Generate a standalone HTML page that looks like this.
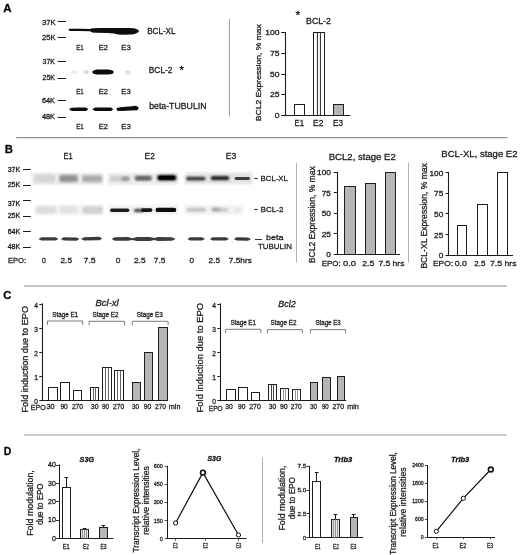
<!DOCTYPE html>
<html><head><meta charset="utf-8"><style>
html,body{margin:0;padding:0;background:#fff;}
svg{display:block;font-family:"Liberation Sans", sans-serif;will-change:transform;filter:blur(0.3px);}
text{stroke:#1c1c1c;stroke-width:0.28px;}
</style></head><body>
<svg width="520" height="555" viewBox="0 0 520 555">
<defs><filter id="b1" x="-50%" y="-50%" width="200%" height="200%"><feGaussianBlur stdDeviation="0.1"/></filter><filter id="b2" x="-50%" y="-50%" width="200%" height="200%"><feGaussianBlur stdDeviation="0.2"/></filter><filter id="b3" x="-50%" y="-50%" width="200%" height="200%"><feGaussianBlur stdDeviation="0.3"/></filter><filter id="b4" x="-50%" y="-50%" width="200%" height="200%"><feGaussianBlur stdDeviation="0.4"/></filter><filter id="b5" x="-50%" y="-50%" width="200%" height="200%"><feGaussianBlur stdDeviation="0.5"/></filter><filter id="b6" x="-50%" y="-50%" width="200%" height="200%"><feGaussianBlur stdDeviation="0.6"/></filter><filter id="b7" x="-50%" y="-50%" width="200%" height="200%"><feGaussianBlur stdDeviation="0.7"/></filter><filter id="b8" x="-50%" y="-50%" width="200%" height="200%"><feGaussianBlur stdDeviation="0.8"/></filter><filter id="b9" x="-50%" y="-50%" width="200%" height="200%"><feGaussianBlur stdDeviation="0.9"/></filter><filter id="b10" x="-50%" y="-50%" width="200%" height="200%"><feGaussianBlur stdDeviation="1.0"/></filter><filter id="b11" x="-50%" y="-50%" width="200%" height="200%"><feGaussianBlur stdDeviation="1.1"/></filter><filter id="b12" x="-50%" y="-50%" width="200%" height="200%"><feGaussianBlur stdDeviation="1.2"/></filter><filter id="b13" x="-50%" y="-50%" width="200%" height="200%"><feGaussianBlur stdDeviation="1.3"/></filter><filter id="b14" x="-50%" y="-50%" width="200%" height="200%"><feGaussianBlur stdDeviation="1.4"/></filter><filter id="b15" x="-50%" y="-50%" width="200%" height="200%"><feGaussianBlur stdDeviation="1.5"/></filter><filter id="b16" x="-50%" y="-50%" width="200%" height="200%"><feGaussianBlur stdDeviation="1.6"/></filter><filter id="b17" x="-50%" y="-50%" width="200%" height="200%"><feGaussianBlur stdDeviation="1.7"/></filter><filter id="b18" x="-50%" y="-50%" width="200%" height="200%"><feGaussianBlur stdDeviation="1.8"/></filter><filter id="b19" x="-50%" y="-50%" width="200%" height="200%"><feGaussianBlur stdDeviation="1.9"/></filter><filter id="b20" x="-50%" y="-50%" width="200%" height="200%"><feGaussianBlur stdDeviation="2.0"/></filter></defs>
<rect width="520" height="555" fill="#fff"/>
<text x="3.20" y="11.90" font-size="11.60" textLength="8.30" lengthAdjust="spacingAndGlyphs" font-weight="bold" fill="#000">A</text>
<text x="41.90" y="24.50" font-size="6.50" textLength="13.70" lengthAdjust="spacingAndGlyphs" fill="#1c1c1c">37K</text>
<line x1="57.50" y1="21.50" x2="66.00" y2="21.50" stroke="#1c1c1c" stroke-width="1.0"/>
<text x="41.90" y="39.80" font-size="6.50" textLength="13.70" lengthAdjust="spacingAndGlyphs" fill="#1c1c1c">25K</text>
<line x1="57.50" y1="37.50" x2="66.00" y2="37.50" stroke="#1c1c1c" stroke-width="1.0"/>
<path d="M69.00,28.80 L80.00,28.80 L90.00,28.90 L92.50,28.30 L100.00,28.10 L112.00,28.10 L118.00,27.90 L128.00,27.90 L134.00,28.30 L137.50,29.40 L139.20,31.00 L138.00,32.60 L134.00,34.20 L126.00,34.80 L118.00,34.60 L114.00,33.60 L108.00,33.00 L96.00,32.80 L92.50,32.60 L90.00,31.20 L80.00,31.00 L70.00,31.00 L68.60,29.90 Z" fill="#0a0a0a" opacity="1" filter="url(#b4)"/>
<text x="147.20" y="33.70" font-size="8.20" textLength="28.30" lengthAdjust="spacingAndGlyphs" fill="#1c1c1c">BCL-XL</text>
<text x="76.30" y="49.60" font-size="7.90" textLength="7.40" lengthAdjust="spacingAndGlyphs" fill="#1c1c1c">E1</text>
<text x="98.80" y="49.60" font-size="7.90" textLength="9.20" lengthAdjust="spacingAndGlyphs" fill="#1c1c1c">E2</text>
<text x="121.30" y="49.60" font-size="7.90" textLength="9.40" lengthAdjust="spacingAndGlyphs" fill="#1c1c1c">E3</text>
<text x="42.50" y="63.80" font-size="6.50" textLength="12.50" lengthAdjust="spacingAndGlyphs" fill="#1c1c1c">37K</text>
<line x1="57.50" y1="61.50" x2="66.00" y2="61.50" stroke="#1c1c1c" stroke-width="1.0"/>
<text x="42.50" y="80.00" font-size="6.50" textLength="12.50" lengthAdjust="spacingAndGlyphs" fill="#1c1c1c">25K</text>
<line x1="57.50" y1="78.50" x2="66.00" y2="78.50" stroke="#1c1c1c" stroke-width="1.0"/>
<ellipse cx="74.50" cy="72.30" rx="3.00" ry="1.00" fill="#c8c8c8" opacity="0.8" filter="url(#b9)"/>
<ellipse cx="86.30" cy="72.10" rx="2.80" ry="1.10" fill="#a8a8a8" opacity="0.9" filter="url(#b9)"/>
<ellipse cx="127.70" cy="72.30" rx="2.80" ry="1.10" fill="#b0b0b0" opacity="0.9" filter="url(#b9)"/>
<path d="M92.00,72.00 L93.50,70.40 L97.00,69.60 L108.00,69.50 L112.20,70.20 L114.00,72.00 L112.20,73.90 L108.00,74.50 L97.00,74.50 L93.50,73.80 Z" fill="#080808" opacity="1" filter="url(#b5)"/>
<text x="148.80" y="73.20" font-size="8.20" textLength="23.70" lengthAdjust="spacingAndGlyphs" fill="#1c1c1c">BCL-2</text>
<text x="179.40" y="73.60" font-size="10.50" textLength="4.40" lengthAdjust="spacingAndGlyphs" fill="#000">*</text>
<text x="76.30" y="94.00" font-size="7.90" textLength="7.40" lengthAdjust="spacingAndGlyphs" fill="#1c1c1c">E1</text>
<text x="98.80" y="94.00" font-size="7.90" textLength="9.20" lengthAdjust="spacingAndGlyphs" fill="#1c1c1c">E2</text>
<text x="121.30" y="94.00" font-size="7.90" textLength="9.40" lengthAdjust="spacingAndGlyphs" fill="#1c1c1c">E3</text>
<text x="42.00" y="103.00" font-size="6.50" textLength="13.00" lengthAdjust="spacingAndGlyphs" fill="#1c1c1c">64K</text>
<line x1="57.50" y1="100.50" x2="66.00" y2="100.50" stroke="#1c1c1c" stroke-width="1.0"/>
<text x="42.00" y="118.80" font-size="6.50" textLength="13.00" lengthAdjust="spacingAndGlyphs" fill="#1c1c1c">48K</text>
<line x1="57.50" y1="117.50" x2="66.00" y2="117.50" stroke="#1c1c1c" stroke-width="1.0"/>
<path d="M69.00,109.30 L71.50,107.70 L78.00,107.50 L86.00,107.60 L88.40,109.30 L86.00,111.00 L78.00,110.90 L71.50,111.00 Z" fill="#0a0a0a" opacity="1" filter="url(#b5)"/>
<path d="M92.40,109.30 L95.00,107.60 L103.00,107.50 L111.00,107.60 L113.40,109.20 L111.00,110.90 L103.00,110.90 L95.00,111.00 Z" fill="#0a0a0a" opacity="1" filter="url(#b5)"/>
<path d="M116.60,108.00 L122.00,107.00 L130.00,106.50 L136.00,105.80 L138.80,107.50 L137.50,110.20 L130.00,110.60 L122.00,111.00 L117.00,110.80 Z" fill="#080808" opacity="1" filter="url(#b5)"/>
<text x="149.20" y="109.00" font-size="8.50" textLength="57.30" lengthAdjust="spacingAndGlyphs" fill="#1c1c1c">beta-TUBULIN</text>
<text x="76.30" y="129.30" font-size="7.90" textLength="7.40" lengthAdjust="spacingAndGlyphs" fill="#1c1c1c">E1</text>
<text x="98.80" y="129.30" font-size="7.90" textLength="9.20" lengthAdjust="spacingAndGlyphs" fill="#1c1c1c">E2</text>
<text x="121.30" y="129.30" font-size="7.90" textLength="9.40" lengthAdjust="spacingAndGlyphs" fill="#1c1c1c">E3</text>
<line x1="229.50" y1="18.80" x2="229.50" y2="116.50" stroke="#a0a0a0" stroke-width="1.0"/>
<text x="295.60" y="19.30" font-size="10.50" textLength="4.80" lengthAdjust="spacingAndGlyphs" fill="#000">*</text>
<text x="306.00" y="23.80" font-size="8.20" textLength="25.00" lengthAdjust="spacingAndGlyphs" fill="#1c1c1c">BCL-2</text>
<line x1="285.50" y1="32.00" x2="285.50" y2="116.00" stroke="#1c1c1c" stroke-width="1.1"/>
<line x1="281.20" y1="115.50" x2="285.60" y2="115.50" stroke="#1c1c1c" stroke-width="1.0"/>
<text x="274.65" y="118.01" font-size="7.00" textLength="4.75" lengthAdjust="spacingAndGlyphs" fill="#1c1c1c">0</text>
<line x1="281.20" y1="94.50" x2="285.60" y2="94.50" stroke="#1c1c1c" stroke-width="1.0"/>
<text x="269.90" y="97.26" font-size="7.00" textLength="9.50" lengthAdjust="spacingAndGlyphs" fill="#1c1c1c">25</text>
<line x1="281.20" y1="74.50" x2="285.60" y2="74.50" stroke="#1c1c1c" stroke-width="1.0"/>
<text x="269.90" y="76.51" font-size="7.00" textLength="9.50" lengthAdjust="spacingAndGlyphs" fill="#1c1c1c">50</text>
<line x1="281.20" y1="53.50" x2="285.60" y2="53.50" stroke="#1c1c1c" stroke-width="1.0"/>
<text x="269.90" y="55.76" font-size="7.00" textLength="9.50" lengthAdjust="spacingAndGlyphs" fill="#1c1c1c">75</text>
<line x1="281.20" y1="32.50" x2="285.60" y2="32.50" stroke="#1c1c1c" stroke-width="1.0"/>
<text x="265.15" y="35.01" font-size="7.00" textLength="14.25" lengthAdjust="spacingAndGlyphs" fill="#1c1c1c">100</text>
<line x1="285.00" y1="115.50" x2="350.50" y2="115.50" stroke="#1c1c1c" stroke-width="1.1"/>
<rect x="294.50" y="104.50" width="10.00" height="11.00" fill="#fff" stroke="#1e1e1e" stroke-width="1"/>
<rect x="313.50" y="32.50" width="11.00" height="83.00" fill="#fff" stroke="#1e1e1e" stroke-width="1"/>
<line x1="317.40" y1="32.50" x2="317.40" y2="115.50" stroke="#222" stroke-width="1.0"/>
<line x1="320.40" y1="32.50" x2="320.40" y2="115.50" stroke="#222" stroke-width="1.0"/>
<rect x="333.50" y="104.50" width="10.00" height="11.00" fill="#b6b6b6" stroke="#1e1e1e" stroke-width="1"/>
<text x="294.60" y="125.90" font-size="8.40" textLength="9.40" lengthAdjust="spacingAndGlyphs" fill="#1c1c1c">E1</text>
<text x="313.00" y="125.90" font-size="8.40" textLength="10.40" lengthAdjust="spacingAndGlyphs" fill="#1c1c1c">E2</text>
<text x="333.00" y="125.90" font-size="8.40" textLength="10.00" lengthAdjust="spacingAndGlyphs" fill="#1c1c1c">E3</text>
<text transform="translate(260.80,121.20) rotate(-90)" x="0" y="0" font-size="8.00" textLength="97.00" lengthAdjust="spacingAndGlyphs" fill="#1c1c1c">BCL2 Expression, % max</text>
<line x1="16.20" y1="137.60" x2="507.60" y2="137.60" stroke="#969696" stroke-width="1.3"/>
<text x="4.80" y="152.70" font-size="11.20" textLength="8.20" lengthAdjust="spacingAndGlyphs" font-weight="bold" fill="#000">B</text>
<text x="63.60" y="158.80" font-size="8.60" textLength="9.20" lengthAdjust="spacingAndGlyphs" fill="#1c1c1c">E1</text>
<text x="144.60" y="158.50" font-size="8.60" textLength="10.20" lengthAdjust="spacingAndGlyphs" fill="#1c1c1c">E2</text>
<text x="225.80" y="158.80" font-size="8.60" textLength="10.40" lengthAdjust="spacingAndGlyphs" fill="#1c1c1c">E3</text>
<text x="7.70" y="171.80" font-size="6.30" textLength="12.50" lengthAdjust="spacingAndGlyphs" fill="#1c1c1c">37K</text>
<line x1="23.00" y1="169.50" x2="30.80" y2="169.50" stroke="#1c1c1c" stroke-width="1.0"/>
<text x="7.70" y="187.10" font-size="6.30" textLength="12.50" lengthAdjust="spacingAndGlyphs" fill="#1c1c1c">25K</text>
<line x1="23.00" y1="185.50" x2="30.80" y2="185.50" stroke="#1c1c1c" stroke-width="1.0"/>
<text x="7.70" y="205.90" font-size="6.30" textLength="12.50" lengthAdjust="spacingAndGlyphs" fill="#1c1c1c">37K</text>
<line x1="23.00" y1="200.50" x2="30.80" y2="200.50" stroke="#1c1c1c" stroke-width="1.0"/>
<text x="7.70" y="218.00" font-size="6.30" textLength="12.50" lengthAdjust="spacingAndGlyphs" fill="#1c1c1c">25K</text>
<line x1="23.00" y1="216.50" x2="30.80" y2="216.50" stroke="#1c1c1c" stroke-width="1.0"/>
<text x="7.70" y="233.90" font-size="6.30" textLength="12.50" lengthAdjust="spacingAndGlyphs" fill="#1c1c1c">64K</text>
<line x1="23.00" y1="231.50" x2="30.80" y2="231.50" stroke="#1c1c1c" stroke-width="1.0"/>
<text x="7.70" y="248.80" font-size="6.30" textLength="12.50" lengthAdjust="spacingAndGlyphs" fill="#1c1c1c">48K</text>
<line x1="23.00" y1="247.50" x2="30.80" y2="247.50" stroke="#1c1c1c" stroke-width="1.0"/>
<rect x="32.00" y="172.80" width="71.50" height="12.20" rx="1.00" fill="#ededed" opacity="1" filter="url(#b10)"/>
<rect x="108.00" y="172.80" width="70.00" height="12.20" rx="1.00" fill="#ededed" opacity="1" filter="url(#b10)"/>
<rect x="184.50" y="172.60" width="68.00" height="11.60" rx="1.00" fill="#e4e4e4" opacity="1" filter="url(#b9)"/>
<rect x="34.50" y="205.00" width="69.00" height="9.80" rx="1.00" fill="#f2f2f2" opacity="1" filter="url(#b10)"/>
<rect x="108.00" y="205.00" width="70.00" height="9.80" rx="1.00" fill="#f2f2f2" opacity="1" filter="url(#b10)"/>
<rect x="184.50" y="205.00" width="58.50" height="9.80" rx="1.00" fill="#f2f2f2" opacity="1" filter="url(#b10)"/>
<rect x="34.00" y="174.60" width="21.00" height="8.00" rx="2.00" fill="#d6d6d6" opacity="1" filter="url(#b11)"/>
<rect x="59.00" y="174.40" width="19.00" height="8.00" rx="2.00" fill="#ababab" opacity="1" filter="url(#b11)"/>
<rect x="60.50" y="176.40" width="16.00" height="4.20" rx="2.00" fill="#8e8e8e" opacity="1" filter="url(#b9)"/>
<rect x="82.00" y="175.00" width="20.50" height="7.60" rx="2.00" fill="#bcbcbc" opacity="1" filter="url(#b11)"/>
<rect x="83.00" y="177.00" width="18.00" height="3.60" rx="2.00" fill="#a6a6a6" opacity="1" filter="url(#b9)"/>
<rect x="110.00" y="176.00" width="19.50" height="5.40" rx="2.00" fill="#cdcdcd" opacity="1" filter="url(#b10)"/>
<rect x="121.50" y="176.80" width="8.00" height="3.80" rx="1.50" fill="#959595" opacity="1" filter="url(#b9)"/>
<rect x="134.50" y="175.60" width="17.50" height="5.20" rx="2.00" fill="#8c8c8c" opacity="1" filter="url(#b10)"/>
<rect x="136.00" y="176.80" width="14.50" height="3.00" rx="1.50" fill="#5e5e5e" opacity="1" filter="url(#b8)"/>
<rect x="157.00" y="174.80" width="19.50" height="6.00" rx="2.50" fill="#2a2a2a" opacity="1" filter="url(#b9)"/>
<rect x="158.50" y="175.80" width="16.50" height="4.00" rx="2.00" fill="#050505" opacity="1" filter="url(#b7)"/>
<rect x="186.00" y="176.80" width="19.50" height="3.60" rx="1.80" fill="#363636" opacity="1" filter="url(#b8)"/>
<rect x="210.80" y="176.00" width="18.40" height="4.20" rx="2.00" fill="#242424" opacity="1" filter="url(#b8)"/>
<rect x="234.60" y="177.00" width="15.40" height="2.90" rx="1.50" fill="#3e3e3e" opacity="1" filter="url(#b7)"/>
<rect x="35.70" y="206.40" width="20.80" height="7.20" rx="2.00" fill="#dcdcdc" opacity="1" filter="url(#b11)"/>
<rect x="59.50" y="206.40" width="17.70" height="7.00" rx="2.00" fill="#e2e2e2" opacity="1" filter="url(#b11)"/>
<rect x="82.60" y="206.40" width="20.00" height="7.40" rx="2.00" fill="#d2d2d2" opacity="1" filter="url(#b11)"/>
<rect x="110.00" y="208.40" width="19.40" height="3.60" rx="1.80" fill="#1e1e1e" opacity="1" filter="url(#b7)"/>
<rect x="134.00" y="208.80" width="10.00" height="3.40" rx="1.60" fill="#505050" opacity="1" filter="url(#b8)"/>
<rect x="141.00" y="208.20" width="11.50" height="3.70" rx="1.80" fill="#151515" opacity="1" filter="url(#b7)"/>
<rect x="155.50" y="207.70" width="20.80" height="4.40" rx="2.20" fill="#0a0a0a" opacity="1" filter="url(#b7)"/>
<path d="M186.00,209.80 L188.50,207.80 L204.50,207.80 L207.00,209.80 L204.50,211.80 L188.50,211.80 Z" fill="#c2c2c2" opacity="1" filter="url(#b11)"/>
<path d="M210.80,209.60 L213.30,207.60 L219.50,207.60 L222.00,209.60 L219.50,211.60 L213.30,211.60 Z" fill="#a4a4a4" opacity="1" filter="url(#b10)"/>
<path d="M218.00,209.80 L220.50,208.10 L226.70,208.10 L229.20,209.80 L226.70,211.50 L220.50,211.50 Z" fill="#cacaca" opacity="1" filter="url(#b10)"/>
<path d="M233.00,210.00 L235.50,208.50 L239.00,208.50 L241.50,210.00 L239.00,211.50 L235.50,211.50 Z" fill="#e2e2e2" opacity="1" filter="url(#b10)"/>
<path d="M38.50,238.90 L41.50,237.25 L55.50,237.25 L58.50,238.90 L55.50,240.55 L41.50,240.55 Z" fill="#3a3a3a" opacity="1" filter="url(#b6)"/>
<path d="M60.80,238.90 L63.80,237.25 L76.50,237.55 L79.50,239.05 L76.50,240.85 L63.80,240.55 Z" fill="#3a3a3a" opacity="1" filter="url(#b6)"/>
<path d="M81.00,238.90 L84.00,237.25 L99.30,236.85 L102.30,238.70 L99.30,240.15 L84.00,240.55 Z" fill="#3a3a3a" opacity="1" filter="url(#b6)"/>
<path d="M187.30,238.90 L190.30,237.25 L202.00,237.25 L205.00,238.90 L202.00,240.55 L190.30,240.55 Z" fill="#3a3a3a" opacity="1" filter="url(#b6)"/>
<path d="M209.80,238.90 L212.80,237.25 L226.00,237.25 L229.00,238.90 L226.00,240.55 L212.80,240.55 Z" fill="#3a3a3a" opacity="1" filter="url(#b6)"/>
<path d="M233.80,238.90 L236.80,237.25 L248.00,237.55 L251.00,239.05 L248.00,240.85 L236.80,240.55 Z" fill="#3a3a3a" opacity="1" filter="url(#b6)"/>
<path d="M111.50,239.00 L115.00,237.20 L128.00,237.10 L132.40,238.20 L137.00,237.00 L150.00,237.00 L154.00,238.10 L158.00,237.00 L172.00,237.20 L175.70,239.00 L172.00,240.70 L158.00,240.90 L154.00,240.00 L150.00,240.90 L137.00,240.90 L132.40,240.00 L128.00,240.80 L115.00,240.80 Z" fill="#3c3c3c" opacity="1" filter="url(#b6)"/>
<line x1="254.40" y1="178.50" x2="257.60" y2="178.50" stroke="#1c1c1c" stroke-width="1.1"/>
<text x="260.60" y="181.10" font-size="8.00" textLength="27.30" lengthAdjust="spacingAndGlyphs" fill="#1c1c1c">BCL-XL</text>
<line x1="254.40" y1="209.50" x2="257.60" y2="209.50" stroke="#1c1c1c" stroke-width="1.1"/>
<text x="260.60" y="212.00" font-size="8.00" textLength="22.90" lengthAdjust="spacingAndGlyphs" fill="#1c1c1c">BCL-2</text>
<line x1="255.00" y1="239.50" x2="262.00" y2="239.50" stroke="#1c1c1c" stroke-width="0.9"/>
<text x="266.00" y="240.40" font-size="8.00" textLength="17.50" lengthAdjust="spacingAndGlyphs" fill="#1c1c1c">beta</text>
<text x="257.90" y="249.20" font-size="8.00" textLength="34.00" lengthAdjust="spacingAndGlyphs" fill="#1c1c1c">TUBULIN</text>
<text x="8.00" y="263.00" font-size="7.80" textLength="18.00" lengthAdjust="spacingAndGlyphs" fill="#1c1c1c">EPO:</text>
<text x="41.80" y="263.00" font-size="7.80" textLength="4.20" lengthAdjust="spacingAndGlyphs" fill="#1c1c1c">0</text>
<text x="60.50" y="263.00" font-size="7.80" textLength="11.50" lengthAdjust="spacingAndGlyphs" fill="#1c1c1c">2.5</text>
<text x="83.60" y="263.00" font-size="7.80" textLength="12.10" lengthAdjust="spacingAndGlyphs" fill="#1c1c1c">7.5</text>
<text x="115.80" y="263.00" font-size="7.80" textLength="4.70" lengthAdjust="spacingAndGlyphs" fill="#1c1c1c">0</text>
<text x="134.00" y="263.00" font-size="7.80" textLength="11.50" lengthAdjust="spacingAndGlyphs" fill="#1c1c1c">2.5</text>
<text x="153.80" y="263.00" font-size="7.80" textLength="11.60" lengthAdjust="spacingAndGlyphs" fill="#1c1c1c">7.5</text>
<text x="189.60" y="263.00" font-size="7.80" textLength="4.60" lengthAdjust="spacingAndGlyphs" fill="#1c1c1c">0</text>
<text x="208.60" y="263.00" font-size="7.80" textLength="11.50" lengthAdjust="spacingAndGlyphs" fill="#1c1c1c">2.5</text>
<text x="228.80" y="263.00" font-size="7.80" textLength="23.00" lengthAdjust="spacingAndGlyphs" fill="#1c1c1c">7.5hrs</text>
<line x1="296.50" y1="163.00" x2="296.50" y2="262.50" stroke="#b4b4b4" stroke-width="1.0"/>
<text x="328.70" y="160.10" font-size="8.60" textLength="67.10" lengthAdjust="spacingAndGlyphs" fill="#1c1c1c">BCL2, stage E2</text>
<line x1="337.50" y1="171.90" x2="337.50" y2="254.90" stroke="#1c1c1c" stroke-width="1.1"/>
<line x1="333.80" y1="254.50" x2="337.00" y2="254.50" stroke="#1c1c1c" stroke-width="1.0"/>
<text x="326.30" y="257.41" font-size="7.00" textLength="4.60" lengthAdjust="spacingAndGlyphs" fill="#1c1c1c">0</text>
<line x1="333.80" y1="233.50" x2="337.00" y2="233.50" stroke="#1c1c1c" stroke-width="1.0"/>
<text x="321.70" y="236.91" font-size="7.00" textLength="9.20" lengthAdjust="spacingAndGlyphs" fill="#1c1c1c">25</text>
<line x1="333.80" y1="213.50" x2="337.00" y2="213.50" stroke="#1c1c1c" stroke-width="1.0"/>
<text x="321.70" y="216.41" font-size="7.00" textLength="9.20" lengthAdjust="spacingAndGlyphs" fill="#1c1c1c">50</text>
<line x1="333.80" y1="192.50" x2="337.00" y2="192.50" stroke="#1c1c1c" stroke-width="1.0"/>
<text x="321.70" y="195.91" font-size="7.00" textLength="9.20" lengthAdjust="spacingAndGlyphs" fill="#1c1c1c">75</text>
<line x1="333.80" y1="172.50" x2="337.00" y2="172.50" stroke="#1c1c1c" stroke-width="1.0"/>
<text x="317.10" y="175.41" font-size="7.00" textLength="13.80" lengthAdjust="spacingAndGlyphs" fill="#1c1c1c">100</text>
<line x1="336.50" y1="254.50" x2="400.00" y2="254.50" stroke="#1c1c1c" stroke-width="1.1"/>
<rect x="344.50" y="186.50" width="11.00" height="68.00" fill="#b6b6b6" stroke="#1e1e1e" stroke-width="1"/>
<rect x="365.50" y="183.50" width="10.00" height="71.00" fill="#b6b6b6" stroke="#1e1e1e" stroke-width="1"/>
<rect x="385.50" y="172.50" width="10.00" height="82.00" fill="#b6b6b6" stroke="#1e1e1e" stroke-width="1"/>
<text x="321.70" y="265.50" font-size="8.00" textLength="19.10" lengthAdjust="spacingAndGlyphs" fill="#1c1c1c">EPO:</text>
<text x="342.90" y="265.50" font-size="8.00" textLength="13.10" lengthAdjust="spacingAndGlyphs" fill="#1c1c1c">0.0</text>
<text x="362.30" y="265.50" font-size="8.00" textLength="11.90" lengthAdjust="spacingAndGlyphs" fill="#1c1c1c">2.5</text>
<text x="378.40" y="265.50" font-size="8.00" textLength="26.00" lengthAdjust="spacingAndGlyphs" fill="#1c1c1c">7.5 hrs</text>
<text transform="translate(315.20,263.20) rotate(-90)" x="0" y="0" font-size="8.20" textLength="97.00" lengthAdjust="spacingAndGlyphs" fill="#1c1c1c">BCL2 Expression, % max</text>
<line x1="408.50" y1="162.80" x2="408.50" y2="262.60" stroke="#b4b4b4" stroke-width="1.0"/>
<text x="441.30" y="157.00" font-size="8.60" textLength="76.20" lengthAdjust="spacingAndGlyphs" fill="#1c1c1c">BCL-XL, stage E2</text>
<line x1="448.50" y1="172.10" x2="448.50" y2="255.70" stroke="#1c1c1c" stroke-width="1.1"/>
<line x1="445.50" y1="255.50" x2="448.70" y2="255.50" stroke="#1c1c1c" stroke-width="1.0"/>
<text x="438.70" y="258.21" font-size="7.00" textLength="4.60" lengthAdjust="spacingAndGlyphs" fill="#1c1c1c">0</text>
<line x1="445.50" y1="234.50" x2="448.70" y2="234.50" stroke="#1c1c1c" stroke-width="1.0"/>
<text x="434.10" y="237.56" font-size="7.00" textLength="9.20" lengthAdjust="spacingAndGlyphs" fill="#1c1c1c">25</text>
<line x1="445.50" y1="213.50" x2="448.70" y2="213.50" stroke="#1c1c1c" stroke-width="1.0"/>
<text x="434.10" y="216.91" font-size="7.00" textLength="9.20" lengthAdjust="spacingAndGlyphs" fill="#1c1c1c">50</text>
<line x1="445.50" y1="193.50" x2="448.70" y2="193.50" stroke="#1c1c1c" stroke-width="1.0"/>
<text x="434.10" y="196.26" font-size="7.00" textLength="9.20" lengthAdjust="spacingAndGlyphs" fill="#1c1c1c">75</text>
<line x1="445.50" y1="172.50" x2="448.70" y2="172.50" stroke="#1c1c1c" stroke-width="1.0"/>
<text x="429.50" y="175.61" font-size="7.00" textLength="13.80" lengthAdjust="spacingAndGlyphs" fill="#1c1c1c">100</text>
<line x1="448.20" y1="255.50" x2="513.00" y2="255.50" stroke="#1c1c1c" stroke-width="1.1"/>
<rect x="457.50" y="225.50" width="9.00" height="30.00" fill="#fff" stroke="#1e1e1e" stroke-width="1"/>
<rect x="477.50" y="204.50" width="10.00" height="51.00" fill="#fff" stroke="#1e1e1e" stroke-width="1"/>
<rect x="497.50" y="172.50" width="10.00" height="83.00" fill="#fff" stroke="#1e1e1e" stroke-width="1"/>
<text x="433.00" y="266.40" font-size="8.00" textLength="20.00" lengthAdjust="spacingAndGlyphs" fill="#1c1c1c">EPO:</text>
<text x="454.70" y="266.40" font-size="8.00" textLength="12.30" lengthAdjust="spacingAndGlyphs" fill="#1c1c1c">0.0</text>
<text x="474.30" y="266.40" font-size="8.00" textLength="11.10" lengthAdjust="spacingAndGlyphs" fill="#1c1c1c">2.5</text>
<text x="490.00" y="266.40" font-size="8.00" textLength="26.50" lengthAdjust="spacingAndGlyphs" fill="#1c1c1c">7.5 hrs</text>
<text transform="translate(426.50,268.60) rotate(-90)" x="0" y="0" font-size="8.40" textLength="105.50" lengthAdjust="spacingAndGlyphs" fill="#1c1c1c">BCL-XL Expression, % max</text>
<line x1="23.80" y1="285.90" x2="506.60" y2="285.90" stroke="#b0b0b0" stroke-width="1.5"/>
<text x="3.20" y="298.60" font-size="11.20" textLength="8.20" lengthAdjust="spacingAndGlyphs" font-weight="bold" fill="#000">C</text>
<line x1="42.50" y1="303.30" x2="42.50" y2="401.10" stroke="#1c1c1c" stroke-width="1.1"/>
<line x1="39.30" y1="400.50" x2="42.30" y2="400.50" stroke="#1c1c1c" stroke-width="1.0"/>
<text x="34.30" y="403.91" font-size="7.00" textLength="3.70" lengthAdjust="spacingAndGlyphs" fill="#1c1c1c">0</text>
<line x1="39.30" y1="376.50" x2="42.30" y2="376.50" stroke="#1c1c1c" stroke-width="1.0"/>
<text x="34.30" y="379.81" font-size="7.00" textLength="3.70" lengthAdjust="spacingAndGlyphs" fill="#1c1c1c">1</text>
<line x1="39.30" y1="352.50" x2="42.30" y2="352.50" stroke="#1c1c1c" stroke-width="1.0"/>
<text x="34.30" y="355.71" font-size="7.00" textLength="3.70" lengthAdjust="spacingAndGlyphs" fill="#1c1c1c">2</text>
<line x1="39.30" y1="328.50" x2="42.30" y2="328.50" stroke="#1c1c1c" stroke-width="1.0"/>
<text x="34.30" y="331.61" font-size="7.00" textLength="3.70" lengthAdjust="spacingAndGlyphs" fill="#1c1c1c">3</text>
<line x1="39.30" y1="304.50" x2="42.30" y2="304.50" stroke="#1c1c1c" stroke-width="1.0"/>
<text x="34.30" y="307.51" font-size="7.00" textLength="3.70" lengthAdjust="spacingAndGlyphs" fill="#1c1c1c">4</text>
<line x1="41.80" y1="400.50" x2="168.00" y2="400.50" stroke="#1c1c1c" stroke-width="1.1"/>
<rect x="48.50" y="387.50" width="9.00" height="13.00" fill="#fff" stroke="#1e1e1e" stroke-width="1"/>
<rect x="60.50" y="382.50" width="9.00" height="18.00" fill="#fff" stroke="#1e1e1e" stroke-width="1"/>
<rect x="73.50" y="390.50" width="8.00" height="10.00" fill="#fff" stroke="#1e1e1e" stroke-width="1"/>
<rect x="90.50" y="387.50" width="8.00" height="13.00" fill="#fff" stroke="#1e1e1e" stroke-width="1"/>
<line x1="93.50" y1="387.50" x2="93.50" y2="400.50" stroke="#555" stroke-width="0.9"/>
<line x1="95.50" y1="387.50" x2="95.50" y2="400.50" stroke="#555" stroke-width="0.9"/>
<rect x="102.50" y="367.50" width="9.00" height="33.00" fill="#fff" stroke="#1e1e1e" stroke-width="1"/>
<line x1="105.50" y1="367.50" x2="105.50" y2="400.50" stroke="#555" stroke-width="0.9"/>
<line x1="108.50" y1="367.50" x2="108.50" y2="400.50" stroke="#555" stroke-width="0.9"/>
<rect x="114.50" y="370.50" width="9.00" height="30.00" fill="#fff" stroke="#1e1e1e" stroke-width="1"/>
<line x1="117.50" y1="370.50" x2="117.50" y2="400.50" stroke="#555" stroke-width="0.9"/>
<line x1="120.50" y1="370.50" x2="120.50" y2="400.50" stroke="#555" stroke-width="0.9"/>
<rect x="132.50" y="382.50" width="8.00" height="18.00" fill="#b6b6b6" stroke="#1e1e1e" stroke-width="1"/>
<rect x="144.50" y="352.50" width="8.00" height="48.00" fill="#b6b6b6" stroke="#1e1e1e" stroke-width="1"/>
<rect x="158.50" y="327.50" width="9.00" height="73.00" fill="#b6b6b6" stroke="#1e1e1e" stroke-width="1"/>
<path d="M47.50,324.80 L47.50,321.00 L82.70,321.00 L82.70,324.80" fill="none" stroke="#7a7a7a" stroke-width="1.0"/>
<path d="M89.20,325.20 L89.20,321.30 L124.60,321.30 L124.60,325.20" fill="none" stroke="#7a7a7a" stroke-width="1.0"/>
<path d="M132.30,325.20 L132.30,321.30 L168.10,321.30 L168.10,325.20" fill="none" stroke="#7a7a7a" stroke-width="1.0"/>
<text x="52.30" y="317.20" font-size="7.00" textLength="26.00" lengthAdjust="spacingAndGlyphs" fill="#1c1c1c">Stage E1</text>
<text x="92.50" y="317.40" font-size="7.00" textLength="26.00" lengthAdjust="spacingAndGlyphs" fill="#1c1c1c">Stage E2</text>
<text x="136.70" y="317.40" font-size="7.00" textLength="26.00" lengthAdjust="spacingAndGlyphs" fill="#1c1c1c">Stage E3</text>
<text x="95.40" y="305.70" font-size="8.60" textLength="23.10" lengthAdjust="spacingAndGlyphs" font-style="italic" fill="#1c1c1c">Bcl-xl</text>
<text x="46.50" y="409.00" font-size="7.00" textLength="8.10" lengthAdjust="spacingAndGlyphs" fill="#1c1c1c">30</text>
<text x="60.40" y="409.00" font-size="7.00" textLength="7.30" lengthAdjust="spacingAndGlyphs" fill="#1c1c1c">90</text>
<text x="71.90" y="409.00" font-size="7.00" textLength="11.20" lengthAdjust="spacingAndGlyphs" fill="#1c1c1c">270</text>
<text x="90.80" y="409.00" font-size="7.00" textLength="7.70" lengthAdjust="spacingAndGlyphs" fill="#1c1c1c">30</text>
<text x="102.00" y="409.00" font-size="7.00" textLength="7.20" lengthAdjust="spacingAndGlyphs" fill="#1c1c1c">90</text>
<text x="113.00" y="409.00" font-size="7.00" textLength="11.20" lengthAdjust="spacingAndGlyphs" fill="#1c1c1c">270</text>
<text x="132.00" y="409.00" font-size="7.00" textLength="7.00" lengthAdjust="spacingAndGlyphs" fill="#1c1c1c">30</text>
<text x="143.80" y="409.00" font-size="7.00" textLength="7.40" lengthAdjust="spacingAndGlyphs" fill="#1c1c1c">90</text>
<text x="155.00" y="409.00" font-size="7.00" textLength="11.00" lengthAdjust="spacingAndGlyphs" fill="#1c1c1c">270</text>
<text x="30.80" y="409.80" font-size="7.40" textLength="14.80" lengthAdjust="spacingAndGlyphs" fill="#1c1c1c">EPO</text>
<text x="168.80" y="409.00" font-size="7.00" textLength="11.60" lengthAdjust="spacingAndGlyphs" fill="#1c1c1c">min</text>
<text transform="translate(28.30,412.50) rotate(-90)" x="0" y="0" font-size="8.80" textLength="106.50" lengthAdjust="spacingAndGlyphs" fill="#1c1c1c">Fold induction due to EPO</text>
<line x1="220.50" y1="303.30" x2="220.50" y2="401.10" stroke="#1c1c1c" stroke-width="1.1"/>
<line x1="217.30" y1="400.50" x2="220.30" y2="400.50" stroke="#1c1c1c" stroke-width="1.0"/>
<text x="212.30" y="403.91" font-size="7.00" textLength="3.70" lengthAdjust="spacingAndGlyphs" fill="#1c1c1c">0</text>
<line x1="217.30" y1="376.50" x2="220.30" y2="376.50" stroke="#1c1c1c" stroke-width="1.0"/>
<text x="212.30" y="379.81" font-size="7.00" textLength="3.70" lengthAdjust="spacingAndGlyphs" fill="#1c1c1c">1</text>
<line x1="217.30" y1="352.50" x2="220.30" y2="352.50" stroke="#1c1c1c" stroke-width="1.0"/>
<text x="212.30" y="355.71" font-size="7.00" textLength="3.70" lengthAdjust="spacingAndGlyphs" fill="#1c1c1c">2</text>
<line x1="217.30" y1="328.50" x2="220.30" y2="328.50" stroke="#1c1c1c" stroke-width="1.0"/>
<text x="212.30" y="331.61" font-size="7.00" textLength="3.70" lengthAdjust="spacingAndGlyphs" fill="#1c1c1c">3</text>
<line x1="217.30" y1="304.50" x2="220.30" y2="304.50" stroke="#1c1c1c" stroke-width="1.0"/>
<text x="212.30" y="307.51" font-size="7.00" textLength="3.70" lengthAdjust="spacingAndGlyphs" fill="#1c1c1c">4</text>
<line x1="219.80" y1="400.50" x2="346.20" y2="400.50" stroke="#1c1c1c" stroke-width="1.1"/>
<rect x="226.50" y="389.50" width="9.00" height="11.00" fill="#fff" stroke="#1e1e1e" stroke-width="1"/>
<rect x="238.50" y="387.50" width="9.00" height="13.00" fill="#fff" stroke="#1e1e1e" stroke-width="1"/>
<rect x="251.50" y="392.50" width="8.00" height="8.00" fill="#fff" stroke="#1e1e1e" stroke-width="1"/>
<rect x="268.50" y="384.50" width="8.00" height="16.00" fill="#fff" stroke="#1e1e1e" stroke-width="1"/>
<line x1="271.50" y1="384.50" x2="271.50" y2="400.50" stroke="#333" stroke-width="0.9"/>
<line x1="273.50" y1="384.50" x2="273.50" y2="400.50" stroke="#333" stroke-width="0.9"/>
<rect x="280.50" y="388.50" width="8.00" height="12.00" fill="#fff" stroke="#1e1e1e" stroke-width="1"/>
<line x1="283.50" y1="388.50" x2="283.50" y2="400.50" stroke="#8a8a8a" stroke-width="0.9"/>
<line x1="285.50" y1="388.50" x2="285.50" y2="400.50" stroke="#8a8a8a" stroke-width="0.9"/>
<rect x="292.50" y="389.50" width="8.00" height="11.00" fill="#fff" stroke="#1e1e1e" stroke-width="1"/>
<line x1="295.50" y1="389.50" x2="295.50" y2="400.50" stroke="#8a8a8a" stroke-width="0.9"/>
<line x1="297.50" y1="389.50" x2="297.50" y2="400.50" stroke="#8a8a8a" stroke-width="0.9"/>
<rect x="310.50" y="382.50" width="7.00" height="18.00" fill="#b6b6b6" stroke="#1e1e1e" stroke-width="1"/>
<rect x="322.50" y="377.50" width="8.00" height="23.00" fill="#b6b6b6" stroke="#1e1e1e" stroke-width="1"/>
<rect x="337.50" y="376.50" width="7.00" height="24.00" fill="#b6b6b6" stroke="#1e1e1e" stroke-width="1"/>
<path d="M225.60,333.00 L225.60,329.30 L260.80,329.30 L260.80,333.00" fill="none" stroke="#7a7a7a" stroke-width="1.0"/>
<path d="M267.30,333.40 L267.30,329.60 L302.30,329.60 L302.30,333.40" fill="none" stroke="#7a7a7a" stroke-width="1.0"/>
<path d="M310.40,333.40 L310.40,329.60 L345.60,329.60 L345.60,333.40" fill="none" stroke="#7a7a7a" stroke-width="1.0"/>
<text x="230.40" y="324.90" font-size="7.00" textLength="25.60" lengthAdjust="spacingAndGlyphs" fill="#1c1c1c">Stage E1</text>
<text x="270.60" y="325.30" font-size="7.00" textLength="25.90" lengthAdjust="spacingAndGlyphs" fill="#1c1c1c">Stage E2</text>
<text x="315.40" y="325.30" font-size="7.00" textLength="25.40" lengthAdjust="spacingAndGlyphs" fill="#1c1c1c">Stage E3</text>
<text x="278.30" y="306.90" font-size="8.60" textLength="17.30" lengthAdjust="spacingAndGlyphs" font-style="italic" fill="#1c1c1c">Bcl2</text>
<text x="225.20" y="409.00" font-size="7.00" textLength="7.50" lengthAdjust="spacingAndGlyphs" fill="#1c1c1c">30</text>
<text x="238.00" y="409.00" font-size="7.00" textLength="7.40" lengthAdjust="spacingAndGlyphs" fill="#1c1c1c">90</text>
<text x="249.20" y="409.00" font-size="7.00" textLength="11.60" lengthAdjust="spacingAndGlyphs" fill="#1c1c1c">270</text>
<text x="268.80" y="409.00" font-size="7.00" textLength="7.40" lengthAdjust="spacingAndGlyphs" fill="#1c1c1c">30</text>
<text x="280.00" y="409.00" font-size="7.00" textLength="7.70" lengthAdjust="spacingAndGlyphs" fill="#1c1c1c">90</text>
<text x="290.80" y="409.00" font-size="7.00" textLength="10.90" lengthAdjust="spacingAndGlyphs" fill="#1c1c1c">270</text>
<text x="310.00" y="409.00" font-size="7.00" textLength="7.10" lengthAdjust="spacingAndGlyphs" fill="#1c1c1c">30</text>
<text x="321.90" y="409.00" font-size="7.00" textLength="6.80" lengthAdjust="spacingAndGlyphs" fill="#1c1c1c">90</text>
<text x="332.50" y="409.00" font-size="7.00" textLength="11.50" lengthAdjust="spacingAndGlyphs" fill="#1c1c1c">270</text>
<text x="208.80" y="411.30" font-size="7.40" textLength="13.90" lengthAdjust="spacingAndGlyphs" fill="#1c1c1c">EPO</text>
<text x="347.30" y="409.00" font-size="7.00" textLength="11.50" lengthAdjust="spacingAndGlyphs" fill="#1c1c1c">min</text>
<text transform="translate(203.40,412.40) rotate(-90)" x="0" y="0" font-size="8.80" textLength="109.50" lengthAdjust="spacingAndGlyphs" fill="#1c1c1c">Fold induction due to EPO</text>
<line x1="23.80" y1="435.00" x2="506.60" y2="435.00" stroke="#b8b8b8" stroke-width="1.6"/>
<text x="3.80" y="454.60" font-size="11.20" textLength="7.60" lengthAdjust="spacingAndGlyphs" font-weight="bold" fill="#000">D</text>
<line x1="59.50" y1="464.50" x2="59.50" y2="538.90" stroke="#1c1c1c" stroke-width="1.0"/>
<line x1="56.00" y1="538.50" x2="59.00" y2="538.50" stroke="#1c1c1c" stroke-width="0.9"/>
<text x="51.90" y="540.69" font-size="6.40" textLength="3.90" lengthAdjust="spacingAndGlyphs" fill="#1c1c1c">0</text>
<line x1="56.00" y1="520.50" x2="59.00" y2="520.50" stroke="#1c1c1c" stroke-width="0.9"/>
<text x="48.00" y="522.34" font-size="6.40" textLength="7.80" lengthAdjust="spacingAndGlyphs" fill="#1c1c1c">10</text>
<line x1="56.00" y1="501.50" x2="59.00" y2="501.50" stroke="#1c1c1c" stroke-width="0.9"/>
<text x="48.00" y="503.99" font-size="6.40" textLength="7.80" lengthAdjust="spacingAndGlyphs" fill="#1c1c1c">20</text>
<line x1="56.00" y1="483.50" x2="59.00" y2="483.50" stroke="#1c1c1c" stroke-width="0.9"/>
<text x="48.00" y="485.64" font-size="6.40" textLength="7.80" lengthAdjust="spacingAndGlyphs" fill="#1c1c1c">30</text>
<line x1="56.00" y1="465.50" x2="59.00" y2="465.50" stroke="#1c1c1c" stroke-width="0.9"/>
<text x="48.00" y="467.29" font-size="6.40" textLength="7.80" lengthAdjust="spacingAndGlyphs" fill="#1c1c1c">40</text>
<line x1="58.50" y1="538.50" x2="113.30" y2="538.50" stroke="#1c1c1c" stroke-width="1.0"/>
<line x1="66.50" y1="477.84" x2="66.50" y2="487.94" stroke="#1c1c1c" stroke-width="1.0"/>
<line x1="64.40" y1="477.50" x2="68.20" y2="477.50" stroke="#1c1c1c" stroke-width="1.0"/>
<rect x="62.50" y="487.50" width="8.00" height="51.00" fill="#fff" stroke="#1e1e1e" stroke-width="1"/>
<line x1="84.50" y1="528.31" x2="84.50" y2="529.23" stroke="#1c1c1c" stroke-width="1.0"/>
<line x1="82.80" y1="528.50" x2="86.60" y2="528.50" stroke="#1c1c1c" stroke-width="1.0"/>
<rect x="80.50" y="529.50" width="8.00" height="9.00" fill="#e6e6e6" stroke="#1e1e1e" stroke-width="1"/>
<line x1="82.50" y1="529.50" x2="82.50" y2="538.50" stroke="#8a8a8a" stroke-width="0.9"/>
<line x1="84.50" y1="529.50" x2="84.50" y2="538.50" stroke="#8a8a8a" stroke-width="0.9"/>
<line x1="86.50" y1="529.50" x2="86.50" y2="538.50" stroke="#8a8a8a" stroke-width="0.9"/>
<line x1="103.50" y1="525.92" x2="103.50" y2="527.76" stroke="#1c1c1c" stroke-width="1.0"/>
<line x1="101.25" y1="525.50" x2="105.05" y2="525.50" stroke="#1c1c1c" stroke-width="1.0"/>
<rect x="99.50" y="527.50" width="8.00" height="11.00" fill="#b6b6b6" stroke="#1e1e1e" stroke-width="1"/>
<text x="79.60" y="461.90" font-size="7.00" textLength="14.40" lengthAdjust="spacingAndGlyphs" font-weight="bold" font-style="italic" fill="#000">S3G</text>
<text x="62.70" y="549.20" font-size="6.60" textLength="6.90" lengthAdjust="spacingAndGlyphs" fill="#1c1c1c">E1</text>
<text x="83.00" y="549.20" font-size="6.60" textLength="5.80" lengthAdjust="spacingAndGlyphs" fill="#1c1c1c">E2</text>
<text x="100.40" y="549.20" font-size="6.60" textLength="6.10" lengthAdjust="spacingAndGlyphs" fill="#1c1c1c">E3</text>
<text transform="translate(33.00,535.80) rotate(-90)" x="0" y="0" font-size="8.20" textLength="65.60" lengthAdjust="spacingAndGlyphs" fill="#1c1c1c">Fold modulation,</text>
<text transform="translate(43.40,524.80) rotate(-90)" x="0" y="0" font-size="8.20" textLength="41.40" lengthAdjust="spacingAndGlyphs" fill="#1c1c1c">due to EPO</text>
<line x1="167.50" y1="465.70" x2="167.50" y2="539.10" stroke="#1c1c1c" stroke-width="1.0"/>
<line x1="164.70" y1="538.50" x2="167.30" y2="538.50" stroke="#1c1c1c" stroke-width="0.8"/>
<text x="159.80" y="540.60" font-size="5.60" textLength="3.00" lengthAdjust="spacingAndGlyphs" fill="#1c1c1c">0</text>
<line x1="164.70" y1="520.50" x2="167.30" y2="520.50" stroke="#1c1c1c" stroke-width="0.8"/>
<text x="153.80" y="522.50" font-size="5.60" textLength="9.00" lengthAdjust="spacingAndGlyphs" fill="#1c1c1c">150</text>
<line x1="164.70" y1="502.50" x2="167.30" y2="502.50" stroke="#1c1c1c" stroke-width="0.8"/>
<text x="153.80" y="504.40" font-size="5.60" textLength="9.00" lengthAdjust="spacingAndGlyphs" fill="#1c1c1c">300</text>
<line x1="164.70" y1="484.50" x2="167.30" y2="484.50" stroke="#1c1c1c" stroke-width="0.8"/>
<text x="153.80" y="486.30" font-size="5.60" textLength="9.00" lengthAdjust="spacingAndGlyphs" fill="#1c1c1c">450</text>
<line x1="164.70" y1="466.50" x2="167.30" y2="466.50" stroke="#1c1c1c" stroke-width="0.8"/>
<text x="153.80" y="468.20" font-size="5.60" textLength="9.00" lengthAdjust="spacingAndGlyphs" fill="#1c1c1c">600</text>
<line x1="166.80" y1="538.50" x2="246.50" y2="538.50" stroke="#1c1c1c" stroke-width="1.0"/>
<line x1="175.50" y1="538.60" x2="175.50" y2="540.80" stroke="#1c1c1c" stroke-width="0.8"/>
<line x1="205.50" y1="538.60" x2="205.50" y2="540.80" stroke="#1c1c1c" stroke-width="0.8"/>
<line x1="238.50" y1="538.60" x2="238.50" y2="540.80" stroke="#1c1c1c" stroke-width="0.8"/>
<path d="M175.60,523.00 L202.90,472.60 L238.50,535.00" fill="none" stroke="#111" stroke-width="1.2"/>
<circle cx="175.60" cy="523.00" r="2.10" fill="#fff" stroke="#111" stroke-width="1.0"/>
<circle cx="202.90" cy="472.60" r="2.40" fill="#fff" stroke="#111" stroke-width="1.6"/>
<circle cx="238.50" cy="535.00" r="2.10" fill="#fff" stroke="#111" stroke-width="1.0"/>
<text x="207.50" y="461.30" font-size="7.00" textLength="13.80" lengthAdjust="spacingAndGlyphs" font-weight="bold" font-style="italic" fill="#000">S3G</text>
<text x="173.00" y="548.10" font-size="6.60" textLength="5.00" lengthAdjust="spacingAndGlyphs" fill="#1c1c1c">E1</text>
<text x="203.00" y="548.10" font-size="6.60" textLength="5.00" lengthAdjust="spacingAndGlyphs" fill="#1c1c1c">E2</text>
<text x="236.30" y="548.10" font-size="6.60" textLength="5.00" lengthAdjust="spacingAndGlyphs" fill="#1c1c1c">E3</text>
<text transform="translate(138.80,552.40) rotate(-90)" x="0" y="0" font-size="8.20" textLength="103.80" lengthAdjust="spacingAndGlyphs" fill="#1c1c1c">Transcript Expression Level,</text>
<text transform="translate(149.00,534.80) rotate(-90)" x="0" y="0" font-size="8.20" textLength="68.60" lengthAdjust="spacingAndGlyphs" fill="#1c1c1c">relative intensities</text>
<line x1="262.50" y1="457.80" x2="262.50" y2="543.00" stroke="#b0b0b0" stroke-width="1.0"/>
<line x1="309.50" y1="465.75" x2="309.50" y2="538.00" stroke="#1c1c1c" stroke-width="1.0"/>
<line x1="306.50" y1="537.50" x2="309.50" y2="537.50" stroke="#1c1c1c" stroke-width="0.9"/>
<text x="302.80" y="539.72" font-size="6.20" textLength="3.50" lengthAdjust="spacingAndGlyphs" fill="#1c1c1c">0</text>
<line x1="306.50" y1="513.50" x2="309.50" y2="513.50" stroke="#1c1c1c" stroke-width="0.9"/>
<text x="297.55" y="515.97" font-size="6.20" textLength="8.75" lengthAdjust="spacingAndGlyphs" fill="#1c1c1c">2.5</text>
<line x1="306.50" y1="490.50" x2="309.50" y2="490.50" stroke="#1c1c1c" stroke-width="0.9"/>
<text x="297.55" y="492.22" font-size="6.20" textLength="8.75" lengthAdjust="spacingAndGlyphs" fill="#1c1c1c">5.0</text>
<line x1="306.50" y1="466.50" x2="309.50" y2="466.50" stroke="#1c1c1c" stroke-width="0.9"/>
<text x="297.55" y="468.47" font-size="6.20" textLength="8.75" lengthAdjust="spacingAndGlyphs" fill="#1c1c1c">7.5</text>
<line x1="309.00" y1="537.50" x2="363.00" y2="537.50" stroke="#1c1c1c" stroke-width="1.0"/>
<line x1="316.50" y1="472.90" x2="316.50" y2="481.26" stroke="#1c1c1c" stroke-width="1.0"/>
<line x1="314.75" y1="472.50" x2="318.55" y2="472.50" stroke="#1c1c1c" stroke-width="1.0"/>
<rect x="312.50" y="481.50" width="8.00" height="56.00" fill="#fff" stroke="#1e1e1e" stroke-width="1"/>
<line x1="335.50" y1="514.70" x2="335.50" y2="519.45" stroke="#1c1c1c" stroke-width="1.0"/>
<line x1="333.50" y1="514.50" x2="337.30" y2="514.50" stroke="#1c1c1c" stroke-width="1.0"/>
<rect x="331.50" y="519.50" width="8.00" height="18.00" fill="#e6e6e6" stroke="#1e1e1e" stroke-width="1"/>
<line x1="333.50" y1="519.50" x2="333.50" y2="537.50" stroke="#8a8a8a" stroke-width="0.9"/>
<line x1="335.50" y1="519.50" x2="335.50" y2="537.50" stroke="#8a8a8a" stroke-width="0.9"/>
<line x1="337.50" y1="519.50" x2="337.50" y2="537.50" stroke="#8a8a8a" stroke-width="0.9"/>
<line x1="353.50" y1="514.70" x2="353.50" y2="517.55" stroke="#1c1c1c" stroke-width="1.0"/>
<line x1="351.85" y1="514.50" x2="355.65" y2="514.50" stroke="#1c1c1c" stroke-width="1.0"/>
<rect x="350.50" y="517.50" width="7.00" height="20.00" fill="#b6b6b6" stroke="#1e1e1e" stroke-width="1"/>
<text x="333.90" y="461.90" font-size="7.00" textLength="18.30" lengthAdjust="spacingAndGlyphs" font-weight="bold" font-style="italic" fill="#000">Trib3</text>
<text x="315.00" y="548.80" font-size="6.60" textLength="5.50" lengthAdjust="spacingAndGlyphs" fill="#1c1c1c">E1</text>
<text x="333.00" y="548.80" font-size="6.60" textLength="5.80" lengthAdjust="spacingAndGlyphs" fill="#1c1c1c">E2</text>
<text x="350.50" y="548.80" font-size="6.60" textLength="5.80" lengthAdjust="spacingAndGlyphs" fill="#1c1c1c">E3</text>
<text transform="translate(285.00,530.50) rotate(-90)" x="0" y="0" font-size="8.20" textLength="64.90" lengthAdjust="spacingAndGlyphs" fill="#1c1c1c">Fold modulation,</text>
<text transform="translate(294.60,519.20) rotate(-90)" x="0" y="0" font-size="8.20" textLength="42.00" lengthAdjust="spacingAndGlyphs" fill="#1c1c1c">due to EPO</text>
<line x1="427.50" y1="465.00" x2="427.50" y2="537.50" stroke="#1c1c1c" stroke-width="1.0"/>
<line x1="424.90" y1="537.50" x2="427.50" y2="537.50" stroke="#1c1c1c" stroke-width="0.8"/>
<text x="420.75" y="538.93" font-size="5.40" textLength="2.85" lengthAdjust="spacingAndGlyphs" fill="#1c1c1c">0</text>
<line x1="424.90" y1="519.50" x2="427.50" y2="519.50" stroke="#1c1c1c" stroke-width="0.8"/>
<text x="415.05" y="521.06" font-size="5.40" textLength="8.55" lengthAdjust="spacingAndGlyphs" fill="#1c1c1c">600</text>
<line x1="424.90" y1="501.50" x2="427.50" y2="501.50" stroke="#1c1c1c" stroke-width="0.8"/>
<text x="412.20" y="503.18" font-size="5.40" textLength="11.40" lengthAdjust="spacingAndGlyphs" fill="#1c1c1c">1200</text>
<line x1="424.90" y1="483.50" x2="427.50" y2="483.50" stroke="#1c1c1c" stroke-width="0.8"/>
<text x="412.20" y="485.31" font-size="5.40" textLength="11.40" lengthAdjust="spacingAndGlyphs" fill="#1c1c1c">1800</text>
<line x1="424.90" y1="465.50" x2="427.50" y2="465.50" stroke="#1c1c1c" stroke-width="0.8"/>
<text x="412.20" y="467.43" font-size="5.40" textLength="11.40" lengthAdjust="spacingAndGlyphs" fill="#1c1c1c">2400</text>
<line x1="427.00" y1="537.50" x2="495.00" y2="537.50" stroke="#1c1c1c" stroke-width="1.0"/>
<line x1="436.50" y1="537.00" x2="436.50" y2="539.20" stroke="#1c1c1c" stroke-width="0.8"/>
<line x1="463.50" y1="537.00" x2="463.50" y2="539.20" stroke="#1c1c1c" stroke-width="0.8"/>
<line x1="490.50" y1="537.00" x2="490.50" y2="539.20" stroke="#1c1c1c" stroke-width="0.8"/>
<path d="M436.30,531.30 L463.30,498.30 L490.80,469.50" fill="none" stroke="#111" stroke-width="1.2"/>
<circle cx="436.30" cy="531.30" r="2.10" fill="#fff" stroke="#111" stroke-width="1.0"/>
<circle cx="463.30" cy="498.30" r="2.10" fill="#fff" stroke="#111" stroke-width="1.0"/>
<circle cx="490.80" cy="469.50" r="2.40" fill="#fff" stroke="#111" stroke-width="1.6"/>
<text x="451.00" y="462.00" font-size="7.00" textLength="18.30" lengthAdjust="spacingAndGlyphs" font-weight="bold" font-style="italic" fill="#000">Trib3</text>
<text x="432.50" y="547.60" font-size="6.60" textLength="6.30" lengthAdjust="spacingAndGlyphs" fill="#1c1c1c">E1</text>
<text x="459.50" y="547.60" font-size="6.60" textLength="6.80" lengthAdjust="spacingAndGlyphs" fill="#1c1c1c">E2</text>
<text x="487.00" y="547.60" font-size="6.60" textLength="6.00" lengthAdjust="spacingAndGlyphs" fill="#1c1c1c">E3</text>
<text transform="translate(395.60,554.80) rotate(-90)" x="0" y="0" font-size="8.20" textLength="102.60" lengthAdjust="spacingAndGlyphs" fill="#1c1c1c">Transcript Expression Level,</text>
<text transform="translate(406.20,536.80) rotate(-90)" x="0" y="0" font-size="8.20" textLength="69.40" lengthAdjust="spacingAndGlyphs" fill="#1c1c1c">relative intensities</text>
</svg></body></html>
